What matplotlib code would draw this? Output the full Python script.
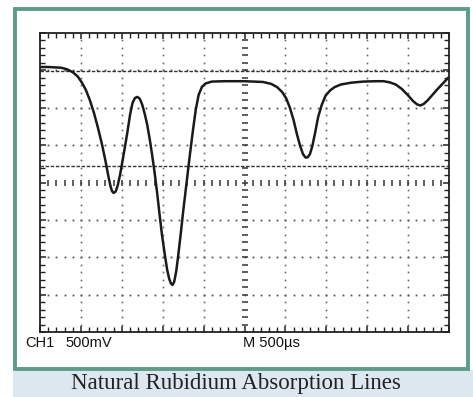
import numpy as np
import matplotlib.pyplot as plt
from matplotlib.patches import Rectangle

# trace, in divisions (x: 0-10, y: 0-8)
trace_x = [0.00, 0.20, 0.37, 0.52, 0.66, 0.80, 0.92, 1.02, 1.12, 1.22,
           1.32, 1.42, 1.52, 1.60, 1.67, 1.72, 1.76, 1.80, 1.85, 1.90,
           1.96, 2.04, 2.13, 2.20, 2.26, 2.32, 2.38, 2.44, 2.50, 2.56,
           2.62, 2.68, 2.74, 2.80, 2.86, 2.92, 2.98, 3.05, 3.11, 3.16,
           3.20, 3.24, 3.28, 3.33, 3.38, 3.44, 3.50, 3.58, 3.66, 3.74,
           3.81, 3.88, 3.96, 4.05, 4.20, 4.50, 5.00, 5.45, 5.65, 5.80,
           5.92, 6.02, 6.11, 6.20, 6.28, 6.36, 6.43, 6.49, 6.54, 6.60,
           6.66, 6.73, 6.80, 6.89, 6.98, 7.09, 7.20, 7.35, 7.60, 7.90,
           8.20, 8.40, 8.55, 8.70, 8.85, 9.00, 9.12, 9.22, 9.30, 9.38,
           9.48, 9.60, 9.72, 9.85, 9.98]
trace_y = [7.09, 7.09, 7.08, 7.07, 7.03, 6.95, 6.84, 6.68, 6.48, 6.20,
           5.86, 5.45, 5.00, 4.58, 4.18, 3.92, 3.77, 3.72, 3.76, 3.92,
           4.22, 4.72, 5.30, 5.80, 6.12, 6.26, 6.29, 6.24, 6.08, 5.84,
           5.55, 5.18, 4.75, 4.28, 3.76, 3.18, 2.62, 2.08, 1.66, 1.42,
           1.30, 1.26, 1.34, 1.62, 2.05, 2.62, 3.22, 3.96, 4.70, 5.40,
           5.96, 6.35, 6.56, 6.65, 6.70, 6.71, 6.71, 6.69, 6.64, 6.55,
           6.42, 6.25, 6.00, 5.67, 5.30, 4.98, 4.76, 4.67, 4.67, 4.76,
           4.98, 5.35, 5.75, 6.08, 6.32, 6.46, 6.55, 6.62, 6.67, 6.70,
           6.71, 6.71, 6.68, 6.62, 6.50, 6.33, 6.18, 6.09, 6.06, 6.10,
           6.20, 6.35, 6.50, 6.65, 6.80]

# cursor levels
cursor_levels = [6.98, 4.44]

ch_label = 'CH1'
volt_label = '500mV'
time_label = 'M 500\u00b5s'
caption = 'Natural Rubidium Absorption Lines'

W, H = 473, 397
fig = plt.figure(figsize=(W / 100, H / 100), dpi=100)
fig.patch.set_facecolor('white')

def fx(px):
    return px / W

def fy(py):
    return 1 - py / H

# caption band and green frame
fig.patches.append(Rectangle((fx(13), 0), fx(460), 27 / H, transform=fig.transFigure,
                             facecolor='#dce7ef', edgecolor='none', zorder=0))
fig.patches.append(Rectangle((fx(15), fy(368.5)), fx(453), 360 / H, transform=fig.transFigure,
                             fill=False, edgecolor='#5e9c8a', linewidth=2.8, zorder=1))
fig.text(fx(236), fy(383), caption, ha='center', va='center', fontsize=16.5,
         family='Liberation Serif', color='#222222')

ax = fig.add_axes([fx(40), fy(332), fx(409), 299 / H])
ax.set_xlim(0, 10)
ax.set_ylim(0, 8)
ax.set_facecolor('white')

# dotted graticule
dots = np.arange(0, 10.01, 0.2)
vdots = np.arange(0, 8.01, 0.2)
for gx in range(1, 10):
    if gx == 5:
        continue
    ax.plot(np.full_like(vdots, gx), vdots, ls='none', marker='s', ms=1.2,
            color='#666666', mew=0)
for gy in range(1, 8):
    if gy == 4:
        continue
    ax.plot(dots, np.full_like(dots, gy), ls='none', marker='s', ms=1.3,
            color='#555555', mew=0)

# centre axes with small ticks
ax.plot(dots, np.full_like(dots, 4), ls='none', marker='|', ms=4.5, mew=1.1, color='#333333')
ax.plot(np.full_like(vdots, 5), vdots, ls='none', marker='_', ms=4.5, mew=1.1, color='#333333')

# cursors
for lvl in cursor_levels:
    ax.axhline(lvl, color='#333333', lw=1.0, ls=(0, (2.5, 1.2)))

ax.plot(trace_x, trace_y, color='#1a1a1a', lw=1.8, solid_joinstyle='round')

ax.set_xticks(range(0, 11))
ax.set_yticks(range(0, 9))
ax.set_xticks(dots, minor=True)
ax.set_yticks(vdots, minor=True)
ax.tick_params(which='both', direction='in', top=True, right=True,
               labelbottom=False, labelleft=False, color='#222222')
ax.tick_params(which='major', length=4, width=1.1)
ax.tick_params(which='minor', length=3.5, width=1.0)
for s in ax.spines.values():
    s.set_linewidth(1.3)
    s.set_color('#222222')

sans = ['Liberation Sans', 'DejaVu Sans']
fig.text(fx(25), fy(343), ch_label, ha='left', va='center', fontsize=10.5, family=sans,
         color='#111111')
fig.text(fx(65), fy(343), volt_label, ha='left', va='center', fontsize=10.5, family=sans,
         color='#111111')
fig.text(fx(243), fy(343), time_label, ha='left', va='center', fontsize=10.5, family=sans,
         color='#111111')

fig.savefig('out.png', dpi=100)
